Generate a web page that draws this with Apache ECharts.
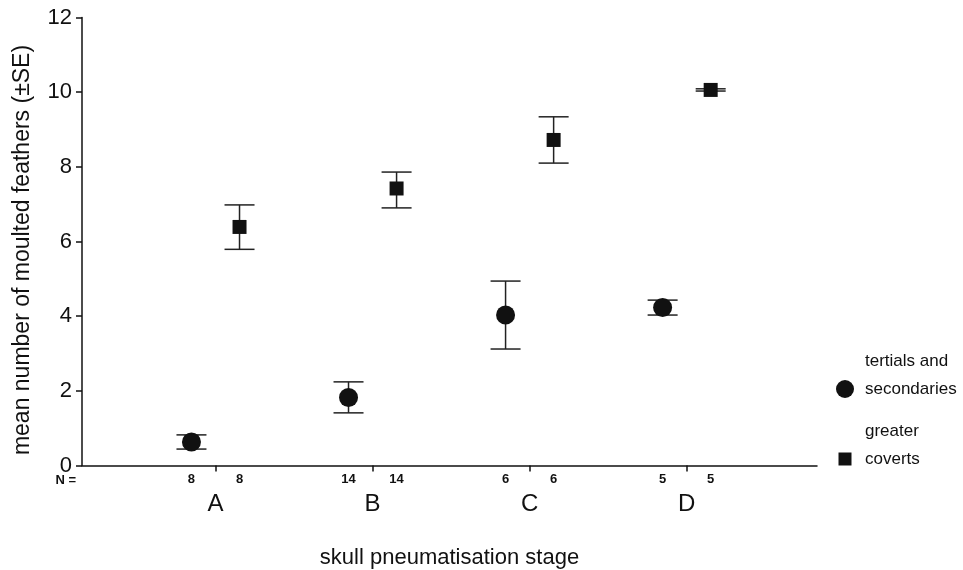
<!DOCTYPE html>
<html>
<head>
<meta charset="utf-8">
<script src="https://cdn.jsdelivr.net/npm/echarts@6.0.0/dist/echarts.min.js"></script>
<style>
	html, body { margin: 0; padding: 0; background: #fff; }
	#chart { width: 963px; height: 570px; }
</style>
</head>
<body>
<div id="chart"></div>
<script>
// stages of skull pneumatisation
var stages = ['A', 'B', 'C', 'D'];
var nTertials = [8, 14, 6, 5];
var nCoverts = [8, 14, 6, 5];
// tertials and secondaries: mean and +-SE
var tertMean = [0.63, 1.82, 4.03, 4.23];
var tertLow = [0.44, 1.41, 3.12, 4.03];
var tertHigh = [0.82, 2.24, 4.94, 4.43];
// greater coverts: mean and +-SE
var covMean = [6.39, 7.42, 8.72, 10.06];
var covLow = [5.79, 6.90, 8.10, 10.03];
var covHigh = [6.98, 7.86, 9.34, 10.09];

var FONT = 'Liberation Sans';
var INK = '#111';
var shift = 0.153; // side offset of the two groups around a stage

var tertPoints = [], covPoints = [], tertBars = [], covBars = [];
var nPos = [], nText = [];
for (var i = 0; i < stages.length; i++) {
	tertPoints.push([i - shift, tertMean[i]]);
	covPoints.push([i + shift, covMean[i]]);
	tertBars.push([i - shift, tertLow[i], tertHigh[i]]);
	covBars.push([i + shift, covLow[i], covHigh[i]]);
	nPos.push(i - shift, i + shift);
	nText.push(nTertials[i], nCoverts[i]);
}

//误差线
function errorBar(params, api) {
	var x = api.value(0);
	var top = api.coord([x, api.value(2)]);
	var bot = api.coord([x, api.value(1)]);
	var hw = 15;
	var st = { stroke: '#222', lineWidth: 1.5 };
	return {
		type: 'group',
		children: [
			{ type: 'line', shape: { x1: top[0], y1: top[1], x2: bot[0], y2: bot[1] }, style: st },
			{ type: 'line', shape: { x1: top[0] - hw, y1: top[1], x2: top[0] + hw, y2: top[1] }, style: st },
			{ type: 'line', shape: { x1: bot[0] - hw, y1: bot[1], x2: bot[0] + hw, y2: bot[1] }, style: st }
		]
	};
}

var chart = echarts.init(document.getElementById('chart'));
var option = {
	animation: false,
	backgroundColor: '#fff',
	textStyle: { fontFamily: FONT, color: INK },
	grid: {
		left: 82, right: 146, top: 17.5, bottom: 104.5,
		containLabel: false,
		outerBoundsMode: 'none'
	},
	xAxis: [{
		type: 'value',
		min: -0.85,
		max: 3.83,
		splitLine: { show: false },
		axisLine: { onZero: false, lineStyle: { color: INK, width: 1.5 } },
		axisTick: {
			customValues: [0, 1, 2, 3],
			length: 6,
			lineStyle: { color: INK, width: 1.5 }
		},
		axisLabel: {
			customValues: [0, 1, 2, 3],
			formatter: function (v) { return stages[Math.round(v)]; },
			margin: 39,
			verticalAlign: 'middle',
			fontSize: 24,
			color: INK,
			fontFamily: FONT
		},
		name: 'skull pneumatisation stage',
		nameLocation: 'middle',
		nameGap: 92,
		nameTextStyle: { fontSize: 22, color: INK, fontFamily: FONT, verticalAlign: 'middle' }
	}, {
		type: 'value',
		position: 'bottom',
		min: -0.85,
		max: 3.83,
		splitLine: { show: false },
		axisLine: { show: false, onZero: false },
		axisTick: { show: false },
		axisLabel: {
			customValues: nPos,
			formatter: function (v) {
				for (var k = 0; k < nPos.length; k++) {
					if (Math.abs(nPos[k] - v) < 1e-6) return String(nText[k]);
				}
				return '';
			},
			margin: 14,
			verticalAlign: 'middle',
			fontSize: 13,
			fontWeight: 'bold',
			color: INK,
			fontFamily: FONT
		}
	}],
	yAxis: {
		type: 'value',
		min: 0,
		max: 12,
		interval: 2,
		splitLine: { show: false },
		axisLine: { show: true, onZero: false, lineStyle: { color: INK, width: 1.5 } },
		axisTick: { show: true, length: 6, lineStyle: { color: INK, width: 1.5 } },
		axisLabel: { fontSize: 22, color: INK, margin: 10, fontFamily: FONT },
		name: 'mean number of moulted feathers (\u00b1SE)',
		nameLocation: 'middle',
		nameGap: 48,
		nameTextStyle: { fontSize: 23, color: INK, fontFamily: FONT, padding: [0, 17, 0, 0] }
	},
	series: [{
		name: 'tertials and secondaries SE',
		type: 'custom',
		renderItem: errorBar,
		encode: { x: 0, y: [1, 2] },
		data: tertBars,
		z: 2
	}, {
		name: 'greater coverts SE',
		type: 'custom',
		renderItem: errorBar,
		encode: { x: 0, y: [1, 2] },
		data: covBars,
		z: 2
	}, {
		name: 'tertials and secondaries',
		type: 'scatter',
		symbol: 'circle',
		symbolSize: 19,
		itemStyle: { color: INK, opacity: 1 },
		data: tertPoints,
		z: 3
	}, {
		name: 'greater coverts',
		type: 'scatter',
		symbol: 'rect',
		symbolSize: 14,
		itemStyle: { color: INK, opacity: 1 },
		data: covPoints,
		z: 3
	}],
	graphic: [
		{ type: 'text', x: 76, y: 480, style: { text: 'N =', font: 'bold 13px "Liberation Sans"', fill: INK, align: 'right', verticalAlign: 'middle' } },
		{ type: 'circle', shape: { cx: 845, cy: 389, r: 9 }, style: { fill: INK } },
		{ type: 'text', x: 865, y: 361, style: { text: 'tertials and', font: '17px "Liberation Sans"', fill: INK, verticalAlign: 'middle' } },
		{ type: 'text', x: 865, y: 389, style: { text: 'secondaries', font: '17px "Liberation Sans"', fill: INK, verticalAlign: 'middle' } },
		{ type: 'rect', shape: { x: 838.5, y: 452.5, width: 13, height: 13 }, style: { fill: INK } },
		{ type: 'text', x: 865, y: 431, style: { text: 'greater', font: '17px "Liberation Sans"', fill: INK, verticalAlign: 'middle' } },
		{ type: 'text', x: 865, y: 459, style: { text: 'coverts', font: '17px "Liberation Sans"', fill: INK, verticalAlign: 'middle' } }
	]
};
chart.setOption(option);
</script>
</body>
</html>
